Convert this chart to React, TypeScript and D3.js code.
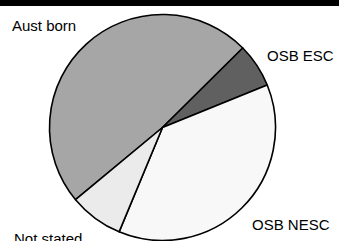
import React from 'react';
import * as d3 from 'd3';

const categories = ['Aust born', 'OSB ESC', 'OSB NESC', 'Not stated'];
const shares = [48.6, 6.3, 37.4, 7.7];
const fills = ['#a6a6a6', '#606060', '#f8f8f8', '#ebebeb'];

// where the data labels sit (text start x, baseline y)
const labelAt: [number, number][] = [
  [12, 31],
  [267, 60.5],
  [252, 229.5],
  [14, 244],
];

const W = 339;
const H = 241;

function App() {
  const cx = 162.5;
  const cy = 127.5;
  const r = 113;

  const start = (230.3 * Math.PI) / 180;
  const pie = d3
    .pie<number>()
    .sort(null)
    .startAngle(start)
    .endAngle(start + 2 * Math.PI);
  const arcs = pie(shares);
  const arc = d3.arc<d3.PieArcDatum<number>>().innerRadius(0).outerRadius(r);

  return (
    <svg
      width={W}
      height={H}
      style={{ position: 'absolute', left: 0, top: 0, background: '#fff' }}
    >
      <rect x={0} y={0} width={W} height={6} fill="#000" />
      <g transform={`translate(${cx},${cy})`}>
        {arcs.map((a, i) => (
          <path
            key={categories[i]}
            d={arc(a) || ''}
            fill={fills[i]}
            stroke="#000"
            strokeWidth={1.6}
            strokeLinejoin="round"
          />
        ))}
      </g>
      {categories.map((c, i) => (
        <text
          key={c}
          x={labelAt[i][0]}
          y={labelAt[i][1]}
          fontFamily="'Liberation Sans', Arial, sans-serif"
          fontSize={15}
          fill="#000"
        >
          {c}
        </text>
      ))}
    </svg>
  );
}

export default App;
